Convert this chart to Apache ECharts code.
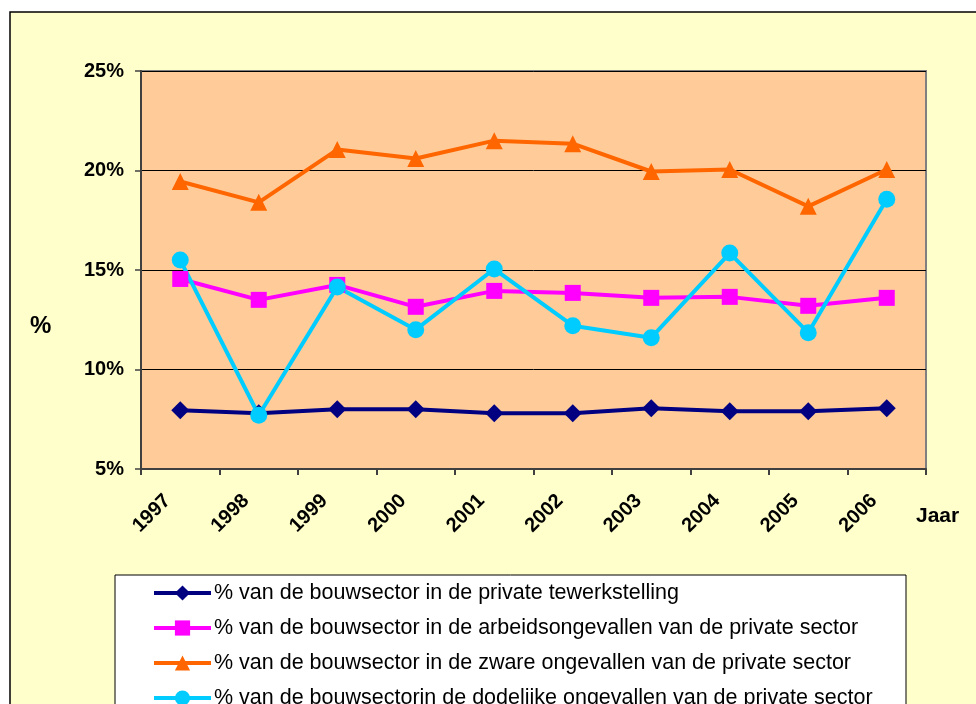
<!DOCTYPE html>
<html>
<head>
<meta charset="utf-8">
<script src="https://cdn.jsdelivr.net/npm/echarts@6/dist/echarts.min.js"></script>
<style>
    html, body { margin: 0; padding: 0; background: #fff; }
    #chart { width: 976px; height: 704px; }
</style>
</head>
<body>
<div id="chart"></div>
<script>
    // jaren
    const years = ['1997', '1998', '1999', '2000', '2001', '2002', '2003', '2004', '2005', '2006'];

    // aandeel bouwsector (%)
    const tewerkstelling = [7.95, 7.8, 8.0, 8.0, 7.8, 7.8, 8.05, 7.9, 7.9, 8.05];
    const arbeidsongevallen = [14.55, 13.5, 14.25, 13.15, 13.95, 13.85, 13.6, 13.65, 13.2, 13.6];
    const zwareOngevallen = [19.45, 18.4, 21.05, 20.6, 21.5, 21.35, 19.95, 20.05, 18.2, 20.05];
    const dodelijkeOngevallen = [15.5, 7.7, 14.15, 12.0, 15.05, 12.2, 11.6, 15.85, 11.85, 18.55];

    const seriesNames = [
        '% van de bouwsector in de private tewerkstelling',
        '% van de bouwsector in de arbeidsongevallen van de private sector',
        '% van de bouwsector in de zware ongevallen van de private sector',
        '% van de bouwsectorin de dodelijke ongevallen van de private sector'
    ];

    const font = 'Arial, "Liberation Sans", sans-serif';

    function lineSeries(name, data, color, symbol, size) {
        return {
            name: name,
            type: 'line',
            data: data,
            symbol: symbol,
            symbolSize: size,
            lineStyle: { color: color, width: 4 },
            itemStyle: { color: color },
            emphasis: { disabled: true }
        };
    }

    const chart = echarts.init(document.getElementById('chart'));
    chart.setOption({
        animation: false,
        backgroundColor: '#ffffff',
        textStyle: { fontFamily: font },
        graphic: [
            // achtergrond van de grafiek
            {
                type: 'rect', z: -100,
                shape: { x: 10, y: 12, width: 990, height: 720 },
                style: { fill: '#FFFFCC', stroke: '#000', lineWidth: 1.5 }
            },
            // kader van de legende
            {
                type: 'rect', z: -50,
                shape: { x: 115, y: 575, width: 791, height: 160 },
                style: { fill: '#ffffff', stroke: '#000', lineWidth: 1 }
            },
            {
                type: 'text', left: 30, top: 314,
                style: { text: '%', font: 'bold 24px ' + font, fill: '#000' }
            },
            {
                type: 'text', left: 916, top: 506,
                style: { text: 'Jaar', font: 'bold 21px ' + font, fill: '#000' }
            }
        ],
        grid: {
            left: 141, top: 71, right: 50, bottom: 235,
            show: true,
            backgroundColor: '#FFCC99',
            borderColor: '#808080',
            borderWidth: 2
        },
        legend: {
            orient: 'vertical',
            left: 152,
            top: 582,
            height: 200,
            padding: 0,
            itemWidth: 57,
            itemHeight: 19,
            itemGap: 13,
            data: seriesNames,
            lineStyle: { width: 4 },
            textStyle: {
                fontSize: 21.5, color: '#000',
                fontFamily: font, padding: [0, 0, 0, -2]
            }
        },
        xAxis: {
            type: 'category',
            data: years,
            axisLine: { lineStyle: { color: '#404040', width: 2 } },
            axisTick: { show: true, length: 6, lineStyle: { color: '#404040', width: 2 } },
            axisLabel: {
                rotate: 45,
                margin: 16,
                padding: [0, 18, 0, 0],
                color: '#000',
                fontWeight: 'bold',
                fontSize: 20,
                fontFamily: font
            },
            splitLine: { show: false }
        },
        yAxis: {
            type: 'value',
            min: 5,
            max: 25,
            interval: 5,
            axisLine: { show: true, lineStyle: { color: '#404040', width: 2 } },
            axisTick: { show: true, length: 6, lineStyle: { color: '#404040', width: 1.5 } },
            axisLabel: {
                formatter: '{value}%',
                color: '#000',
                fontWeight: 'bold',
                fontSize: 20,
                margin: 17,
                fontFamily: font
            },
            splitLine: { lineStyle: { color: '#000', width: 1 } }
        },
        series: [
            lineSeries(seriesNames[0], tewerkstelling, '#000080', 'diamond', 18),
            lineSeries(seriesNames[1], arbeidsongevallen, '#FF00FF', 'rect', 16),
            lineSeries(seriesNames[2], zwareOngevallen, '#FF6600', 'triangle', 17),
            lineSeries(seriesNames[3], dodelijkeOngevallen, '#00CCFF', 'circle', 17)
        ]
    });
</script>
</body>
</html>
